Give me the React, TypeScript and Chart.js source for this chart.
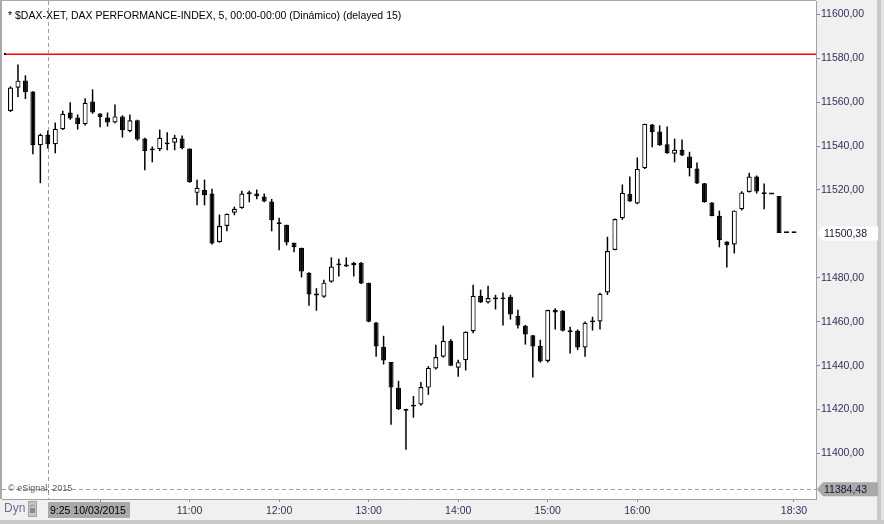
import React, { useEffect, useRef } from 'react';
import { Chart, registerables } from 'chart.js';

Chart.register(...registerables);

// ---- Data (5-minute candles, 9:00 onwards) ----
const OPEN = [
  11556, 11566.6, 11569.9, 11564.9, 11540.4, 11545.1, 11540.8, 11547.7, 11555.3, 11553,
  11550, 11560.3, 11554.8, 11553, 11550.7, 11553.5, 11546.8, 11551.7, 11543.4, 11538.9,
  11538.6, 11541.6, 11541.5, 11543.4, 11538.9, 11518.7, 11520, 11518.4, 11496.3, 11503.6,
  11509.6, 11511.8, 11519, 11518.4, 11517, 11514.7, 11505, 11504.2, 11496, 11493.7,
  11482.3, 11472.7, 11471.4, 11478.2, 11486.3, 11486, 11485.7, 11486.9, 11477.8, 11459.7,
  11448.6, 11441.7, 11429.9, 11420.2, 11422, 11422.3, 11430, 11438.7, 11444.1, 11451.3,
  11439.1, 11442.5, 11455.7, 11471.8, 11468.8, 11470.8, 11470.8, 11471.4, 11462.7, 11458.2,
  11453.9, 11448.9, 11442.1, 11465.3, 11465, 11455.9, 11455.9, 11448.3, 11460.4, 11460.1,
  11473.3, 11492.7, 11507.1, 11518.2, 11513.9, 11529.9, 11549.8, 11546.6, 11540.8, 11536.5,
  11538.3, 11535.2, 11529.8, 11523.1, 11514.3, 11508.3, 11496.5, 11495.2, 11511.2, 11519.1,
  11526.1, 11518.8, 11518, 11517.3, 11500.38, 11500.38,
];
const HIGH = [
  11567.2, 11577.2, 11572.2, 11565, 11545.7, 11547.1, 11550.7, 11556.1, 11559.9, 11554.4,
  11561.8, 11565.8, 11555, 11555.3, 11558.9, 11554, 11554.4, 11552, 11543.8, 11539.8,
  11547.5, 11546.3, 11545.1, 11544.8, 11538.9, 11524.7, 11524.7, 11520.6, 11508.8, 11509.3,
  11512.4, 11519.7, 11519.7, 11520.2, 11518.4, 11515.9, 11507.4, 11504.2, 11496, 11493.7,
  11482.5, 11475.3, 11479.1, 11489.3, 11488.7, 11489.3, 11487.3, 11487.2, 11477.8, 11459.9,
  11453.6, 11441.7, 11433.1, 11420.4, 11426.2, 11432.6, 11439.8, 11449.5, 11458.2, 11452.1,
  11442.7, 11455.6, 11476.9, 11474.6, 11476.4, 11472.3, 11473.3, 11472.3, 11465.5, 11458.6,
  11454, 11451.8, 11465.5, 11466.2, 11465.3, 11457.7, 11456.5, 11460.1, 11462.3, 11473.2,
  11498.7, 11507, 11522.5, 11526.1, 11534.8, 11550.2, 11550.1, 11549.4, 11548.9, 11543.4,
  11543, 11537.4, 11532.5, 11523.2, 11514.4, 11510.6, 11496.6, 11510.7, 11519.4, 11527.9,
  11526.6, 11522.9, 11518, 11517.3, 11500.38, 11500.38,
];
const LOW = [
  11555.5, 11562.3, 11561.4, 11536.3, 11523.1, 11538.9, 11536.7, 11547.3, 11552, 11547.5,
  11549.4, 11554.7, 11548.6, 11548.9, 11550.4, 11543.9, 11546.3, 11542.5, 11529, 11532.6,
  11537.7, 11538.1, 11538.1, 11538.6, 11523.3, 11513, 11513, 11495.2, 11496, 11501.2,
  11508.5, 11511.5, 11514.4, 11515.8, 11514.4, 11501.2, 11492.5, 11494.8, 11491.6, 11480.2,
  11467.3, 11465, 11470.9, 11477.8, 11480.6, 11485, 11480.6, 11477.2, 11459.8, 11444.1,
  11440.5, 11413.1, 11419.8, 11401.7, 11416.3, 11421.8, 11426.7, 11438.2, 11443.7, 11439.8,
  11435, 11437.8, 11454.8, 11468.6, 11468.3, 11465.6, 11458.3, 11461, 11456.9, 11449.6,
  11434.6, 11441.4, 11441.4, 11456.5, 11455.6, 11445.5, 11447.1, 11444.1, 11456, 11456.5,
  11472.2, 11492.5, 11506.4, 11514.6, 11513.5, 11529.6, 11539.5, 11540.1, 11536.5, 11532.6,
  11535.5, 11526.2, 11522.7, 11514.2, 11508, 11493.9, 11484.7, 11491.1, 11510.7, 11518.9,
  11518.4, 11511.2, 11518, 11500.38, 11500.38, 11500.38,
];
const CLOSE = [
  11566.7, 11569.8, 11564.6, 11540.4, 11545.1, 11540.8, 11547.9, 11554.7, 11552.6, 11550,
  11559.7, 11555.3, 11553.2, 11550.7, 11553.5, 11547.2, 11551.7, 11543, 11537.7, 11538.1,
  11543.8, 11540.8, 11543.8, 11539, 11523.5, 11521, 11517.6, 11495.6, 11503.6, 11509.1,
  11511.4, 11518.4, 11518.2, 11517.1, 11514.7, 11506.2, 11504.5, 11496.1, 11493.9, 11482.9,
  11472.4, 11472, 11477.8, 11485.1, 11485.7, 11485.2, 11486.8, 11477.4, 11460, 11448.7,
  11442.3, 11430, 11420.2, 11419.5, 11421.4, 11430.3, 11439, 11443.9, 11451.3, 11440,
  11441.6, 11455.4, 11471.8, 11468.8, 11470.8, 11470.2, 11470.2, 11463.3, 11458.3, 11454.2,
  11448.7, 11441.9, 11465.3, 11464.2, 11455.9, 11455.3, 11448.3, 11459.5, 11459.8, 11472.7,
  11492.2, 11506.8, 11518.7, 11514.8, 11529.6, 11550.1, 11546.3, 11540.4, 11536.7, 11538.3,
  11535.7, 11529.9, 11522.9, 11514.4, 11508.2, 11497.1, 11494.8, 11510.6, 11518.8, 11526.1,
  11519.3, 11518.2, 11518, 11500.38, 11500.38, 11500.38,
];

// x axis: bar index positions of the time ticks
const X_TICKS = [5, 12, 24, 36, 48, 60, 72, 84, 105];
const X_TICK_TEXT = ['9:25 10/03/2015', '', '11:00', '12:00', '13:00', '14:00', '15:00', '16:00', '18:30'];
const X_MIN = -1.14;
const X_MAX = 107.95;

// y axis
const Y_TICKS = [11400, 11420, 11440, 11460, 11480, 11500, 11520, 11540, 11560, 11580, 11600];
const Y_MIN = 11379.28;
const Y_MAX = 11606.06;

const PREV_CLOSE = 11582;
const LAST_PRICE = 11500.38;
const CROSS_INDEX = 5;
const CROSS_PRICE = 11384.43;

const TITLE = '* $DAX-XET, DAX PERFORMANCE-INDEX, 5, 00:00-00:00 (Dinámico) (delayed 15)';
const COPYRIGHT = '© eSignal, 2015';

const FAMILY = '"Liberation Sans", Arial, sans-serif';
const AXIS_TXT = '#35305a';

const fmt = (v: number) => v.toFixed(2).replace('.', ',');

function App() {
  const ref = useRef<HTMLCanvasElement>(null);

  useEffect(() => {
    const canvas = ref.current!;
    const idx = OPEN.map((_, i) => i);
    const up = idx.map((i) => CLOSE[i] > OPEN[i]);
    const bodies = idx.map((i) => ({ x: i, y: [Math.min(OPEN[i], CLOSE[i]), Math.max(OPEN[i], CLOSE[i])] }));
    const wicks = idx.map((i) => ({ x: i, y: [LOW[i], HIGH[i]] }));

    const drawTag = (ctx: CanvasRenderingContext2D, yp: number, text: string, fill: string, h: number) => {
      const x0 = 817;
      const x1 = 878;
      ctx.beginPath();
      ctx.moveTo(x0, yp);
      ctx.lineTo(x0 + 6, yp - h);
      ctx.lineTo(x1, yp - h);
      ctx.lineTo(x1, yp + h);
      ctx.lineTo(x0 + 6, yp + h);
      ctx.closePath();
      ctx.fillStyle = fill;
      ctx.fill();
      ctx.fillStyle = '#1a1430';
      ctx.font = `10.5px ${FAMILY}`;
      ctx.textAlign = 'left';
      ctx.textBaseline = 'middle';
      ctx.fillText(text, 824, yp + 0.5);
    };

    const overlay = {
      id: 'esignalOverlay',
      beforeDraw(chart: any) {
        const { ctx, chartArea: a } = chart;
        ctx.save();
        ctx.fillStyle = '#f0f0f0';
        ctx.fillRect(0, 0, 884, 524);
        ctx.fillStyle = '#ffffff';
        ctx.fillRect(a.left, a.top, a.right - a.left, a.bottom - a.top);
        ctx.fillStyle = '#a9a9a9';
        ctx.fillRect(0, 0, a.left, a.bottom);
        ctx.fillRect(0, 0, a.right, a.top);
        ctx.fillStyle = '#c9c9c9';
        ctx.fillRect(877, 0, 4, 524);
        ctx.fillRect(0, 520, 884, 4);
        ctx.fillStyle = '#e6e6e6';
        ctx.fillRect(881, 0, 3, 520);
        ctx.restore();
      },
      beforeDatasetsDraw(chart: any) {
        const { ctx, chartArea: a, scales } = chart;
        const xs = scales.x;
        const ys = scales.y;
        ctx.save();
        // previous close line
        const py = Math.round(ys.getPixelForValue(PREV_CLOSE));
        ctx.fillStyle = '#ff0000';
        ctx.fillRect(a.left + 3, py - 0.5, a.right - a.left - 3, 1.5);
        ctx.fillStyle = '#000';
        ctx.fillRect(a.left + 2, py - 1, 2, 2);
        // crosshair
        ctx.strokeStyle = '#a0a0a0';
        ctx.lineWidth = 1;
        ctx.setLineDash([4, 3]);
        const cx = Math.round(xs.getPixelForValue(CROSS_INDEX)) + 0.5;
        ctx.beginPath();
        ctx.moveTo(cx, a.top);
        ctx.lineTo(cx, a.bottom);
        ctx.stroke();
        const cy = Math.round(ys.getPixelForValue(CROSS_PRICE)) + 1.5;
        ctx.beginPath();
        ctx.moveTo(a.left, cy);
        ctx.lineTo(a.right, cy);
        ctx.stroke();
        ctx.setLineDash([]);
        // title
        ctx.fillStyle = '#000';
        ctx.font = `10.5px ${FAMILY}`;
        ctx.textAlign = 'left';
        ctx.textBaseline = 'middle';
        ctx.fillText(TITLE, 8, 16);
        // copyright
        ctx.fillStyle = '#555';
        ctx.font = `9px ${FAMILY}`;
        ctx.fillText(COPYRIGHT, 8, cy - 0.5);
        ctx.restore();
      },
      afterDraw(chart: any) {
        const { ctx, scales } = chart;
        const xs = scales.x;
        const ys = scales.y;
        ctx.save();
        // price tags
        drawTag(ctx, ys.getPixelForValue(LAST_PRICE) + 0.5, fmt(LAST_PRICE), '#ffffff', 7);
        drawTag(ctx, ys.getPixelForValue(CROSS_PRICE) + 1.5, fmt(CROSS_PRICE), '#a9a9a9', 7);
        // Dyn + lock
        ctx.fillStyle = '#6e6e96';
        ctx.font = `12px ${FAMILY}`;
        ctx.textAlign = 'left';
        ctx.textBaseline = 'middle';
        ctx.fillText('Dyn', 4, 509);
        ctx.fillStyle = '#c6c6c6';
        ctx.strokeStyle = '#a2a2a2';
        ctx.lineWidth = 1;
        ctx.beginPath();
        ctx.rect(28.5, 501.5, 8, 15);
        ctx.fill();
        ctx.stroke();
        ctx.strokeStyle = '#8a8a8a';
        ctx.beginPath();
        ctx.arc(32.5, 507, 2, Math.PI, 0);
        ctx.stroke();
        ctx.fillStyle = '#8a8a8a';
        ctx.fillRect(30, 508, 5, 5);
        // first time label with grey box
        const fx = Math.round(xs.getPixelForValue(CROSS_INDEX));
        ctx.fillStyle = '#a9a9a9';
        ctx.fillRect(fx, 502, 82, 16);
        ctx.fillStyle = '#000';
        ctx.font = `10.5px ${FAMILY}`;
        ctx.fillText(X_TICK_TEXT[0], fx + 2, 511);
        ctx.restore();
      },
    };

    const chart = new Chart(canvas, {
      type: 'bar',
      data: {
        datasets: [
          {
            label: 'body',
            data: bodies as any,
            backgroundColor: up.map((u) => (u ? '#ffffff' : '#000000')),
            borderColor: '#000000',
            borderWidth: 1.2,
            borderSkipped: false,
            barThickness: 5,
            minBarLength: 1.8,
            grouped: false,
            inflateAmount: 0,
            order: 1,
          } as any,
          {
            label: 'wick',
            data: wicks as any,
            backgroundColor: '#000000',
            borderWidth: 0,
            barThickness: 1.5,
            grouped: false,
            inflateAmount: 0,
            order: 2,
          } as any,
        ],
      },
      options: {
        responsive: false,
        animation: false,
        devicePixelRatio: 1,
        layout: { padding: { left: 2, top: 1, right: 0, bottom: 0 } },
        plugins: { legend: { display: false }, tooltip: { enabled: false } },
        scales: {
          x: {
            type: 'linear',
            min: X_MIN,
            max: X_MAX,
            offset: false,
            afterBuildTicks: (s: any) => {
              s.ticks = X_TICKS.map((v) => ({ value: v }));
            },
            afterFit: (s: any) => {
              s.height = 25;
              s.paddingLeft = 0;
              s.paddingRight = 0;
            },
            grid: {
              offset: false,
              drawOnChartArea: false,
              drawTicks: true,
              tickLength: 3,
              color: (c: any) => (c.index === 0 ? 'rgba(0,0,0,0)' : '#8a8a8a'),
            },
            border: { display: true, color: '#a0a0a0' },
            ticks: {
              autoSkip: false,
              maxRotation: 0,
              minRotation: 0,
              padding: 3,
              color: AXIS_TXT,
              font: { family: FAMILY, size: 10.5 },
              callback: (_v: any, i: number) => (i === 0 ? '' : X_TICK_TEXT[i]),
            },
          },
          y: {
            type: 'linear',
            position: 'right',
            min: Y_MIN,
            max: Y_MAX,
            beginAtZero: false,
            afterBuildTicks: (s: any) => {
              s.ticks = Y_TICKS.map((v) => ({ value: v }));
            },
            afterFit: (s: any) => {
              s.width = 68;
              s.paddingTop = 0;
              s.paddingBottom = 0;
            },
            grid: { drawOnChartArea: false, drawTicks: true, tickLength: 4, color: '#8a8a8a' },
            border: { display: true, color: '#a0a0a0' },
            ticks: {
              padding: 1,
              color: AXIS_TXT,
              font: { family: FAMILY, size: 10.5 },
              callback: (v: any) => fmt(Number(v)),
            },
          },
        },
      } as any,
      plugins: [overlay],
    });

    return () => chart.destroy();
  }, []);

  return (
    <div style={{ position: 'fixed', left: 0, top: 0, width: 884, height: 524 }}>
      <canvas ref={ref} width={884} height={524} style={{ display: 'block', width: 884, height: 524 }} />
    </div>
  );
}

export default App;
